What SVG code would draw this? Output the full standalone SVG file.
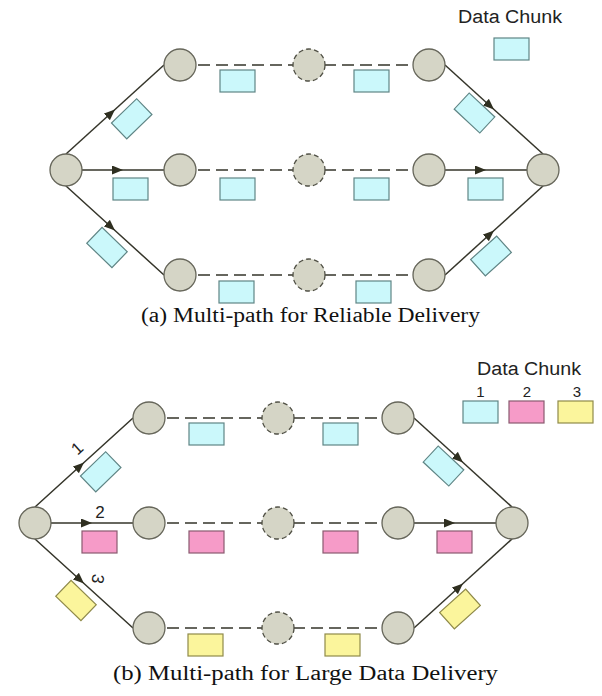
<svg xmlns="http://www.w3.org/2000/svg" width="602" height="696" viewBox="0 0 602 696">
  <defs>
    <marker id="arr" markerUnits="userSpaceOnUse" markerWidth="11" markerHeight="9" refX="11" refY="4.5" orient="auto">
      <path d="M0,0 L11,4.5 L0,9 z" fill="#2f2f20"/>
    </marker>
    <style>
      .node{fill:#d5d5c6;stroke:#66665a;stroke-width:1.3}
      .relay{fill:#d5d5c6;stroke:#4f4f44;stroke-width:1.3;stroke-dasharray:5 3}
      .link{fill:none;stroke:#35352a;stroke-width:1.5;marker-mid:url(#arr)}
      .dash{fill:none;stroke:#35352a;stroke-width:1.6;stroke-dasharray:12 6}
      .c1{fill:#cbf8fb;stroke:#5f8585;stroke-width:1.2}
      .c2{fill:#f69bc8;stroke:#8a5a70;stroke-width:1.2}
      .c3{fill:#fbf59c;stroke:#8f8a4a;stroke-width:1.2}
      .sans{font-family:"Liberation Sans",Arial,sans-serif;fill:#222}
      .cap{font-family:"Liberation Serif","Times New Roman",serif;fill:#111;font-size:20px;text-anchor:middle}
    </style>
  </defs>
  <rect width="602" height="696" fill="#ffffff"/>

  <!-- (a) reliable delivery: every path carries the same chunk -->
  <g id="diagram-a">
    <g id="connectors-a">
      <path class="dash" d="M180,65 H429"/>
      <path class="dash" d="M180,170 H429"/>
      <path class="dash" d="M180,275 H429"/>
      <path class="link" d="M66,154 L115,109.5 L164,65"/>
      <path class="link" d="M82,170 L123,170 L164,170"/>
      <path class="link" d="M66,186 L115,230.5 L164,275"/>
      <path class="link" d="M445,65 L494,109.5 L543,154"/>
      <path class="link" d="M445,170 L486,170 L527,170"/>
      <path class="link" d="M445,275 L494,230.5 L543,186"/>
    </g>
    <g id="a-source"><circle class="node" cx="66" cy="170" r="16"/></g>
    <g id="a-sink"><circle class="node" cx="543" cy="170" r="16"/></g>
    <g id="a-top-1"><circle class="node" cx="180" cy="65" r="16"/></g>
    <g id="a-top-2"><circle class="relay" cx="309" cy="65" r="16"/></g>
    <g id="a-top-3"><circle class="node" cx="429" cy="65" r="16"/></g>
    <g id="a-mid-1"><circle class="node" cx="180" cy="170" r="16"/></g>
    <g id="a-mid-2"><circle class="relay" cx="309" cy="170" r="16"/></g>
    <g id="a-mid-3"><circle class="node" cx="429" cy="170" r="16"/></g>
    <g id="a-bot-1"><circle class="node" cx="180" cy="275" r="16"/></g>
    <g id="a-bot-2"><circle class="relay" cx="309" cy="275" r="16"/></g>
    <g id="a-bot-3"><circle class="node" cx="429" cy="275" r="16"/></g>
    <g id="a-chunks">
      <rect class="c1" x="220" y="70" width="35" height="22"/>
      <rect class="c1" x="354" y="70" width="35" height="22"/>
      <rect class="c1" x="113" y="178" width="35" height="22"/>
      <rect class="c1" x="220" y="178" width="35" height="22"/>
      <rect class="c1" x="354" y="178" width="35" height="22"/>
      <rect class="c1" x="468" y="178" width="35" height="22"/>
      <rect class="c1" x="219" y="281" width="35" height="22"/>
      <rect class="c1" x="356" y="281" width="35" height="22"/>
      <rect class="c1" x="-17.5" y="-11" width="35" height="22" transform="translate(131.7,118.8) rotate(-44)"/>
      <rect class="c1" x="-17.5" y="-11" width="35" height="22" transform="translate(107,247.5) rotate(44)"/>
      <rect class="c1" x="-17.5" y="-11" width="35" height="22" transform="translate(474.5,113) rotate(43)"/>
      <rect class="c1" x="-17.5" y="-11" width="35" height="22" transform="translate(491,256) rotate(-42)"/>
    </g>
    <g id="a-legend">
      <text class="sans" x="458" y="23" font-size="18" textLength="104" lengthAdjust="spacingAndGlyphs">Data Chunk</text>
      <rect class="c1" x="494" y="38" width="35" height="22"/>
    </g>
  </g>
  <text class="cap" x="310.5" y="322" textLength="339" lengthAdjust="spacingAndGlyphs">(a) Multi-path for Reliable Delivery</text>

  <!-- (b) large data delivery: each path carries its own chunk -->
  <g id="diagram-b" transform="translate(-31,353)">
    <g id="connectors-b">
      <path class="dash" d="M180,65 H429"/>
      <path class="dash" d="M180,170 H429"/>
      <path class="dash" d="M180,275 H429"/>
      <path class="link" d="M66,154 L115,109.5 L164,65"/>
      <path class="link" d="M82,170 L123,170 L164,170"/>
      <path class="link" d="M66,186 L115,230.5 L164,275"/>
      <path class="link" d="M445,65 L494,109.5 L543,154"/>
      <path class="link" d="M445,170 L486,170 L527,170"/>
      <path class="link" d="M445,275 L494,230.5 L543,186"/>
    </g>
    <g id="b-source"><circle class="node" cx="66" cy="170" r="16"/></g>
    <g id="b-sink"><circle class="node" cx="543" cy="170" r="16"/></g>
    <g id="b-top-1"><circle class="node" cx="180" cy="65" r="16"/></g>
    <g id="b-top-2"><circle class="relay" cx="309" cy="65" r="16"/></g>
    <g id="b-top-3"><circle class="node" cx="429" cy="65" r="16"/></g>
    <g id="b-mid-1"><circle class="node" cx="180" cy="170" r="16"/></g>
    <g id="b-mid-2"><circle class="relay" cx="309" cy="170" r="16"/></g>
    <g id="b-mid-3"><circle class="node" cx="429" cy="170" r="16"/></g>
    <g id="b-bot-1"><circle class="node" cx="180" cy="275" r="16"/></g>
    <g id="b-bot-2"><circle class="relay" cx="309" cy="275" r="16"/></g>
    <g id="b-bot-3"><circle class="node" cx="429" cy="275" r="16"/></g>
    <g id="b-chunks">
      <rect class="c1" x="220" y="70" width="35" height="22"/>
      <rect class="c1" x="354" y="70" width="35" height="22"/>
      <rect class="c2" x="113" y="178" width="35" height="22"/>
      <rect class="c2" x="220" y="178" width="35" height="22"/>
      <rect class="c2" x="354" y="178" width="35" height="22"/>
      <rect class="c2" x="468" y="178" width="35" height="22"/>
      <rect class="c3" x="219" y="281" width="35" height="22"/>
      <rect class="c3" x="356" y="281" width="35" height="22"/>
      <rect class="c1" x="-17.5" y="-11" width="35" height="22" transform="translate(131.7,118.8) rotate(-44)"/>
      <rect class="c3" x="-17.5" y="-11" width="35" height="22" transform="translate(107,247.5) rotate(44)"/>
      <rect class="c1" x="-17.5" y="-11" width="35" height="22" transform="translate(474.5,113) rotate(43)"/>
      <rect class="c3" x="-17.5" y="-11" width="35" height="22" transform="translate(491,256) rotate(-42)"/>
    </g>
  </g>
  <g id="b-path-labels" class="sans" font-size="17" text-anchor="middle">
    <text x="0" y="6" transform="translate(77,448) rotate(-42)">1</text>
    <text x="100" y="518">2</text>
    <text x="0" y="6" transform="translate(98,579) rotate(100)">3</text>
  </g>
  <g id="b-legend">
    <text class="sans" x="477" y="375" font-size="18" textLength="104" lengthAdjust="spacingAndGlyphs">Data Chunk</text>
    <g class="sans" font-size="15" text-anchor="middle">
      <text x="480.5" y="397">1</text>
      <text x="527" y="397">2</text>
      <text x="577" y="397">3</text>
    </g>
    <rect class="c1" x="463" y="401" width="35" height="22"/>
    <rect class="c2" x="509" y="401" width="35" height="22"/>
    <rect class="c3" x="558" y="401" width="35" height="22"/>
  </g>
  <text class="cap" x="305.5" y="680" textLength="385" lengthAdjust="spacingAndGlyphs">(b) Multi-path for Large Data Delivery</text>
</svg>
